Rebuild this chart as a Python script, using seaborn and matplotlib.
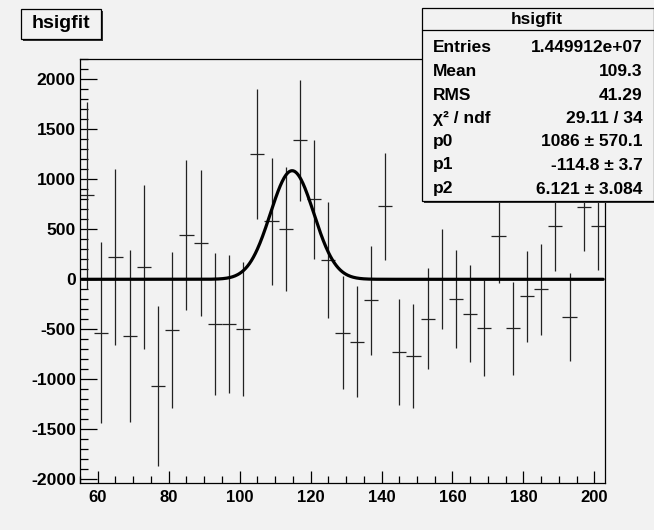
import matplotlib.pyplot as plt
import matplotlib.patches as mpatches
from matplotlib.ticker import MultipleLocator
import numpy as np
import seaborn as sns

# Histogram bins (centres), contents and errors
bin_centres = [57, 61, 65, 69, 73, 77, 81, 85, 89, 93, 97, 101, 105, 109, 113,
               117, 121, 125, 129, 133, 137, 141, 145, 149, 153, 157, 161, 165,
               169, 173, 177, 181, 185, 189, 193, 197, 201]
counts = [840, -533, 220, -567, 123, -1067, -510, 440, 367, -450, -450, -500,
          1257, 580, 500, 1390, 800, 190, -533, -627, -210, 730, -727, -767,
          -393, 0, -193, -343, -490, 433, -490, -170, -100, 530, -377, 723, 530]
errors = [935, 903, 880, 855, 820, 795, 780, 750, 730, 710, 690, 670, 650, 635,
          620, 607, 595, 578, 568, 555, 545, 535, 527, 515, 503, 498, 490, 485,
          478, 470, 465, 455, 455, 447, 442, 443, 433]

# Fit parameters (gaus) as printed in the stats box
p0, p1, p2 = 1086, -114.8, 6.121

stat_labels = ['Entries', 'Mean', 'RMS', 'χ² / ndf', 'p0', 'p1', 'p2']
stat_values = ['1.449912e+07', '109.3', '41.29', '29.11 / 34',
               '1086 ± 570.1', '-114.8 ± 3.7', '6.121 ± 3.084']

sns.set_style('ticks')
plt.rcParams['font.family'] = ['Liberation Sans', 'DejaVu Sans']
plt.rcParams['axes.unicode_minus'] = False
plt.rcParams['text.color'] = 'black'
plt.rcParams['xtick.color'] = 'black'
plt.rcParams['ytick.color'] = 'black'
plt.rcParams['xtick.labelcolor'] = 'black'
plt.rcParams['ytick.labelcolor'] = 'black'

W, H = 654, 530
bg = '#f2f2f2'


def fx(x):
    return x / W


def fy(y):
    return 1 - y / H


fig = plt.figure(figsize=(W / 100, H / 100), dpi=100, facecolor=bg)
ax = fig.add_axes([fx(80), fy(483.3), (605 - 80) / W, (483.3 - 59) / H])
ax.set_facecolor(bg)

# data points with error bars (horizontal bar = bin width)
ax.errorbar(bin_centres, counts, xerr=2, yerr=errors, fmt='none',
            ecolor='#222222', elinewidth=0.9, capsize=0)

# gaussian fit curve
fit_x = np.linspace(55.5, 202.5, 800)
fit_y = p0 * np.exp(-0.5 * ((fit_x - abs(p1)) / p2) ** 2)
sns.lineplot(x=fit_x, y=fit_y, color='black', linewidth=2.3, ax=ax)

ax.set_xlim(55, 203)
ax.set_ylim(-2040, 2203)
ax.set_xlabel('')
ax.set_ylabel('')

ax.xaxis.set_major_locator(MultipleLocator(20))
ax.xaxis.set_minor_locator(MultipleLocator(5))
ax.yaxis.set_major_locator(MultipleLocator(500))
ax.yaxis.set_minor_locator(MultipleLocator(100))
ax.tick_params(axis='y', which='major', direction='in', length=12, width=0.9,
               pad=3, labelsize=12.6)
ax.tick_params(axis='y', which='minor', direction='in', length=6, width=0.9)
ax.tick_params(axis='x', which='major', direction='in', length=9, width=0.9,
               pad=5, labelsize=12)
ax.tick_params(axis='x', which='minor', direction='in', length=5, width=0.9)
for lab in ax.get_xticklabels() + ax.get_yticklabels():
    lab.set_fontweight('bold')
    lab.set_color('black')
for sp in ax.spines.values():
    sp.set_visible(True)
    sp.set_color('black')
    sp.set_linewidth(0.9)

# title box with shadow
fig.add_artist(mpatches.Rectangle((fx(23), fy(41)), fx(80), 30 / H,
                                  transform=fig.transFigure, facecolor='#333333',
                                  edgecolor='none', zorder=5))
fig.add_artist(mpatches.Rectangle((fx(21), fy(39)), fx(80), 30 / H,
                                  transform=fig.transFigure, facecolor=bg,
                                  edgecolor='black', linewidth=0.9, zorder=6))
fig.text(fx(61), fy(24), 'hsigfit', ha='center', va='center', fontsize=14,
         fontweight='bold', color='black', zorder=7)

# stats box
sx0, sy0, sx1, sy1 = 421.7, 8.3, 653.5, 200.7
fig.add_artist(mpatches.Rectangle((fx(sx0 + 2), fy(sy1 + 2)), (sx1 - sx0) / W,
                                  (sy1 - sy0) / H, transform=fig.transFigure,
                                  facecolor='#333333', edgecolor='none', zorder=5))
fig.add_artist(mpatches.Rectangle((fx(sx0), fy(sy1)), (sx1 - sx0) / W,
                                  (sy1 - sy0) / H, transform=fig.transFigure,
                                  facecolor=bg, edgecolor='black', linewidth=0.9,
                                  zorder=6))
fig.add_artist(plt.Line2D([fx(sx0), fx(sx1)], [fy(30), fy(30)],
                          transform=fig.transFigure, color='black',
                          linewidth=0.9, zorder=7))
fig.text(fx(537), fy(19.5), 'hsigfit', ha='center', va='center', fontsize=12.3,
         fontweight='bold', color='black', zorder=8)
row_y = [48, 72, 95, 118.5, 142, 165, 189]
for lab, val, y in zip(stat_labels, stat_values, row_y):
    fig.text(fx(433), fy(y), lab, ha='left', va='center', fontsize=12.5,
             fontweight='bold', color='black', zorder=8)
    fig.text(fx(642.7), fy(y), val, ha='right', va='center', fontsize=12.5,
             fontweight='bold', color='black', zorder=8)

fig.savefig('out.png', dpi=100, facecolor=bg)
